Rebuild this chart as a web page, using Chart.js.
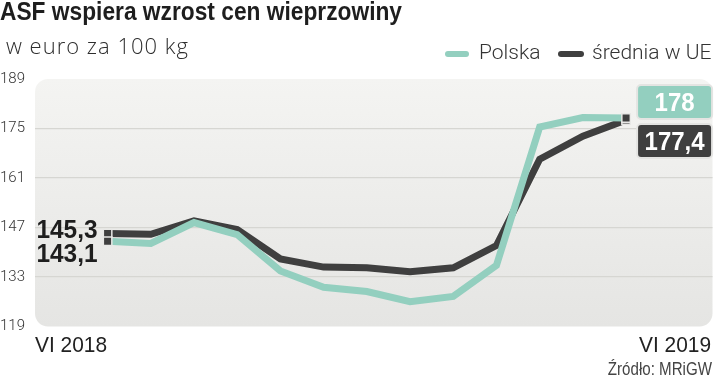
<!DOCTYPE html>
<html>
<head>
<meta charset="utf-8">
<script src="https://cdn.jsdelivr.net/npm/chart.js@4.4.1/dist/chart.umd.min.js"></script>
<style>
  html, body { margin:0; padding:0; background:#fff; }
  #wrap { position:relative; width:720px; height:383px; overflow:hidden; }
  canvas { position:absolute; left:0; top:0; }
  .t { position:absolute; white-space:nowrap; color:#222; }
  #title { left:0; top:-4px; font:bold 26px "Liberation Sans", sans-serif; color:#1e1e1e; transform:scaleX(0.875); transform-origin:0 0; }
  #sub { left:6px; top:30px; font:300 22px "Open Sans", sans-serif; letter-spacing:1px; color:#2e2e2e; }
  .leg { top:40px; font:300 21px Roboto, sans-serif; color:#333; }
  .sw { position:absolute; height:6px; border-radius:3px; top:51px; }
  #src { right:8px; top:359px; font:18px "Liberation Sans", sans-serif; color:#444; transform:scaleX(0.84); transform-origin:100% 0; }
</style>
</head>
<body>
<div id="wrap">
  <canvas id="c" width="720" height="383"></canvas>
  <div class="t" id="title">ASF wspiera wzrost cen wieprzowiny</div>
  <div class="t" id="sub">w euro za 100 kg</div>
  <div class="sw" style="left:445px;width:24px;background:#93cfbf"></div>
  <div class="t leg" style="left:479px">Polska</div>
  <div class="sw" style="left:558px;width:26px;background:#3f3f3f"></div>
  <div class="t leg" style="left:592px">średnia w UE</div>
  <div class="t" id="src">Źródło: MRiGW</div>
</div>
<script>
// ---- data ----
const months = ['VI 2018','VII 2018','VIII 2018','IX 2018','X 2018','XI 2018','XII 2018','I 2019','II 2019','III 2019','IV 2019','V 2019','VI 2019'];
const polska = [143.1, 142.5, 148.4, 145.0, 134.7, 130.1, 128.9, 126.0, 127.5, 136.3, 175.4, 178.1, 178.0];
const sredniaUE = [145.3, 145.1, 148.9, 146.4, 138.1, 135.8, 135.6, 134.5, 135.6, 141.9, 166.3, 172.8, 177.4];
const yTicks = [119, 133, 147, 161, 175, 189];
const xEdgeLabels = ['VI 2018', 'VI 2019'];
const seriesNames = ['Polska', 'średnia w UE'];

const TEAL = '#93cfbf';
const DARK = '#3f3f3f';
const last = months.length - 1;
const fmt = v => String(v).replace('.', ',');

const bgPlugin = {
  id: 'bg',
  beforeDraw(chart) {
    const {ctx, chartArea: a} = chart;
    ctx.save();
    const g = ctx.createLinearGradient(0, a.top, 0, a.bottom);
    g.addColorStop(0, '#f4f4f2');
    g.addColorStop(1, '#e5e5e3');
    ctx.fillStyle = g;
    ctx.beginPath();
    ctx.roundRect(a.left, a.top, a.right - a.left, a.bottom - a.top, 13);
    ctx.fill();
    ctx.restore();
  }
};

function drawScaledText(ctx, text, x, y, align, sx) {
  ctx.save();
  ctx.translate(x, y);
  ctx.scale(sx, 1);
  ctx.textAlign = align;
  ctx.fillText(text, 0, 0);
  ctx.restore();
}

const labelPlugin = {
  id: 'labels',
  afterDraw(chart) {
    const {ctx, chartArea: a} = chart;
    const xs = chart.scales.x, ys = chart.scales.y;
    ctx.save();
    // x edge labels
    ctx.fillStyle = '#222';
    ctx.font = '22px "Liberation Sans", sans-serif';
    ctx.textBaseline = 'alphabetic';
    drawScaledText(ctx, xEdgeLabels[0], a.left, 352, 'left', 0.95);
    drawScaledText(ctx, xEdgeLabels[1], 711, 352, 'right', 0.95);

    // first-point labels
    const x0 = xs.getPixelForValue(0);
    const yEU0 = ys.getPixelForValue(sredniaUE[0]);
    const yPL0 = ys.getPixelForValue(polska[0]);
    ctx.fillStyle = '#1e1e1e';
    ctx.font = 'bold 26px "Liberation Sans", sans-serif';
    drawScaledText(ctx, fmt(sredniaUE[0]), x0 - 10, yEU0 + 4, 'right', 0.94);
    drawScaledText(ctx, fmt(polska[0]), x0 - 10, yPL0 + 21, 'right', 0.94);

    // last-point boxes
    const xL = xs.getPixelForValue(last);
    const yL = ys.getPixelForValue(sredniaUE[last]);
    const bx = xL + 11, bw = 75, bh = 34;
    const boxes = [
      {y: yL - 1 - bh, fill: TEAL, text: fmt(polska[last])},
      {y: yL + 4, fill: DARK, text: fmt(sredniaUE[last])}
    ];
    boxes.forEach(b => {
      ctx.beginPath();
      ctx.roundRect(bx, b.y, bw, bh, 4);
      ctx.fillStyle = b.fill;
      ctx.fill();
      ctx.lineWidth = 2;
      ctx.strokeStyle = '#e4e4e2';
      ctx.stroke();
      ctx.fillStyle = '#fff';
      ctx.font = 'bold 25px "Liberation Sans", sans-serif';
      drawScaledText(ctx, b.text, bx + bw / 2, b.y + 26, 'center', 0.96);
    });
    ctx.restore();
  }
};

const pointR = ctx => (ctx.dataIndex === 0 || ctx.dataIndex === last) ? 6 : 0;

new Chart(document.getElementById('c'), {
  type: 'line',
  data: {
    datasets: [
      {
        label: seriesNames[0],
        data: polska.map((v, i) => ({x: i, y: v})),
        borderColor: TEAL,
        borderWidth: 7,
        tension: 0,
        borderJoinStyle: 'miter',
        pointStyle: 'rect',
        pointRadius: pointR,
        pointBackgroundColor: DARK,
        pointBorderColor: '#e8e8e6',
        pointBorderWidth: 1.5
      },
      {
        label: seriesNames[1],
        data: sredniaUE.map((v, i) => ({x: i, y: v})),
        borderColor: DARK,
        borderWidth: 7,
        tension: 0,
        borderJoinStyle: 'miter',
        pointStyle: 'rect',
        pointRadius: pointR,
        pointBackgroundColor: DARK,
        pointBorderColor: '#e8e8e6',
        pointBorderWidth: 1.5
      }
    ]
  },
  options: {
    responsive: false,
    animation: false,
    events: [],
    layout: { padding: { left: 0, top: 79, right: 3, bottom: 56.5 } },
    plugins: { legend: { display: false }, tooltip: { enabled: false } },
    scales: {
      x: {
        type: 'linear',
        min: -1.68,
        max: 14,
        display: false
      },
      y: {
        type: 'linear',
        min: yTicks[0],
        max: yTicks[yTicks.length - 1],
        afterBuildTicks: s => { s.ticks = yTicks.map(v => ({value: v})); },
        afterFit: s => { s.width = 35; },
        border: { display: false },
        grid: {
          drawTicks: false,
          color: c => (c.tick && (c.tick.value === yTicks[0] || c.tick.value === yTicks[yTicks.length - 1])) ? 'rgba(0,0,0,0)' : '#d6d6d2',
          lineWidth: 1.2
        },
        ticks: {
          crossAlign: 'far',
          padding: 0,
          color: '#333',
          font: { family: 'Roboto', size: 15, weight: '300' }
        }
      }
    }
  },
  plugins: [bgPlugin, labelPlugin]
});
</script>
</body>
</html>
